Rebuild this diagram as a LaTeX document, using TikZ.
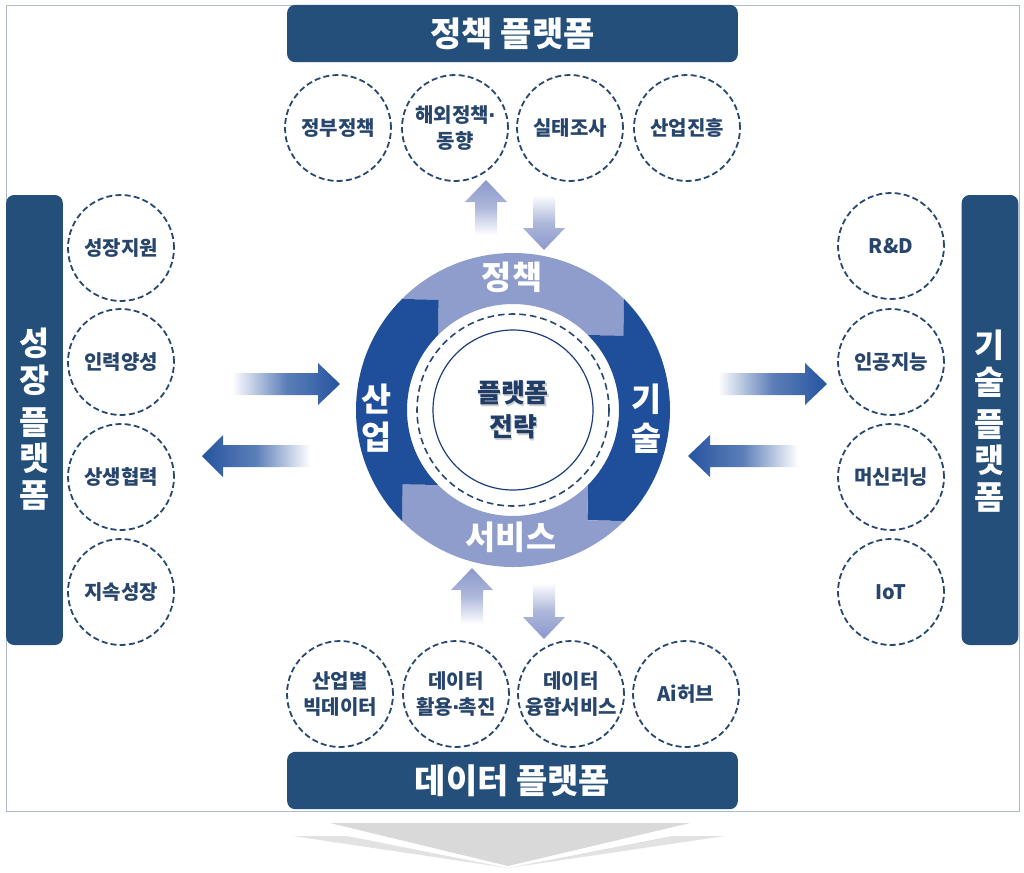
\documentclass[tikz,border=0pt]{standalone}
\usepackage{fontspec}
\setmainfont{Noto Sans CJK KR}
\newfontfamily\dotfont{DejaVu Sans}
\usetikzlibrary{calc}
\definecolor{navy}{RGB}{36,79,122}
\definecolor{circtext}{RGB}{40,70,108}
\definecolor{circline}{RGB}{40,72,112}
\definecolor{ringlight}{RGB}{142,157,203}
\definecolor{ringdark}{RGB}{31,78,154}
\definecolor{harr}{RGB}{38,84,160}
\definecolor{varr}{RGB}{139,153,203}
\definecolor{framecol}{RGB}{172,186,206}
\definecolor{centertext}{RGB}{31,61,102}
\definecolor{chevmain}{RGB}{217,217,217}
\definecolor{chevwing}{RGB}{226,226,226}
\newcommand\mdot{{\dotfont\bfseries\kern-0.05em·\kern-0.05em}}
\tikzset{
 item/.style={circle, draw=circline, line width=1.35pt, dash pattern=on 4.5pt off 2.4pt, minimum size=79.5pt, inner sep=0pt, align=center, text=circtext, font=\bfseries\fontsize{15}{19}\selectfont},
 hdr/.style={fill=navy, rounded corners=6pt, minimum width=338pt, minimum height=43pt, inner sep=0pt, text=white, font=\bfseries\fontsize{25.5}{30}\selectfont},
 vbar/.style={fill=navy, rounded corners=6pt, minimum width=42.5pt, minimum height=337.5pt, inner sep=0pt},
 vbartxt/.style={text=white, align=center, inner sep=0pt, font=\bfseries\fontsize{24.5}{27.5}\selectfont},
 ringtxt/.style={text=white, align=center, inner sep=0pt, font=\bfseries\fontsize{24.5}{29}\selectfont},
 centertxt/.style={text=centertext, align=center, inner sep=0pt, font=\bfseries\fontsize{19.5}{25.5}\selectfont},
}
% point at visual angle #1, radius #2 from (C)
\newcommand\rp[2]{($(C)+({#2*cos(#1)},{-#2*sin(#1)})$)}
\newcommand\ringseg[3]{%
 \fill[#3] \rp{#1}{157} arc[start angle=-#1, end angle=-#2, radius=157]
   -- \rp{#2-11}{133} -- \rp{#2}{106}
   arc[start angle=-#2, end angle=-#1, radius=106]
   -- \rp{#1-11}{133} -- cycle;}
% horizontal block arrow: tail x, head-base x, tip x, y, left colour, right colour
\newcommand\harrow[6]{%
 \shade[left color=#5, right color=#6, middle color=harr!75] (#1,#4-11) -- (#2,#4-11) -- (#2,#4-21) -- (#3,#4) -- (#2,#4+21) -- (#2,#4+11) -- (#1,#4+11) -- cycle;}
\newcommand\varrow[6]{%
 \shade[top color=#5, bottom color=#6, middle color=varr!70] (#4-11,#1) -- (#4-11,#2) -- (#4-21,#2) -- (#4,#3) -- (#4+21,#2) -- (#4+11,#2) -- (#4+11,#1) -- cycle;}
\begin{document}
\begin{tikzpicture}[x=0.75pt,y=-0.75pt]
\useasboundingbox (0,0) rectangle (1024,872);
\fill[white] (0,0) rectangle (1024,872);
% frame
\draw[framecol, line width=0.75pt] (6,5) rectangle (1019,811);

% headers
\node[hdr] (polh) at (512.5,33.5) {정책 플랫폼};
\node[hdr] (dath) at (512.5,780.5) {데이터 플랫폼};
\node[vbar] (grow) at (34.5,420) {};
\node[vbartxt] (growt) at (34.5,419) {성\\장\\[4pt]플\\랫\\폼};
\node[vbar] (tech) at (990,420) {};
\node[vbartxt] (techt) at (990,421) {기\\술\\[4pt]플\\랫\\폼};

% top circles
\node[item] (p1) at (338,128) {정부정책};
\node[item] (p2) at (455,128) {해외정책\mdot\\동향};
\node[item] (p3) at (570,128) {실태조사};
\node[item] (p4) at (687,128) {산업진흥};
% bottom circles
\node[item] (d1) at (340,694) {산업별\\빅데이터};
\node[item] (d2) at (456,694) {데이터\\활용\mdot 촉진};
\node[item] (d3) at (571,694) {데이터\\융합서비스};
\node[item] (d4) at (686,694) {Ai허브};
% left circles
\node[item] (g1) at (121,248) {성장지원};
\node[item] (g2) at (121,362) {인력양성};
\node[item] (g3) at (121,477) {상생협력};
\node[item] (g4) at (121,592) {지속성장};
% right circles
\node[item] (t1) at (891,246) {R\&D};
\node[item] (t2) at (891,362) {인공지능};
\node[item] (t3) at (891,477) {머신러닝};
\node[item] (t4) at (891,592) {IoT};

% centre ring
\coordinate (C) at (513,410);
\ringseg{135}{45}{ringlight}
\ringseg{45}{-45}{ringdark}
\ringseg{-45}{-135}{ringlight}
\ringseg{-135}{-225}{ringdark}
\draw[circline, line width=1.2pt, dash pattern=on 5pt off 3pt] (C) circle[radius=96];
\draw[ringdark!80!black, line width=0.9pt] (C) circle[radius=80];
\node[centertxt, text=black!18] at (514.5,411.5) {플랫폼\\전략};
\node[centertxt] (ctr) at (513,410) {플랫폼\\전략};
\node[ringtxt] (rpol) at (512,277) {정책};
\node[ringtxt] (rsvc) at (511,537) {서비스};
\node[ringtxt] (rind) at (377,418) {산\\업};
\node[ringtxt] (rtec) at (647,419) {기\\술};

% horizontal arrows
\harrow{232}{318}{340}{384}{white}{harr}
\harrow{310}{223}{202}{456}{harr}{white}
\harrow{718}{805}{827}{384}{white}{harr}
\harrow{798}{710}{688}{456}{harr}{white}
% vertical arrows
\varrow{235}{202}{180}{486}{varr}{white}
\varrow{195}{228}{250}{544}{white}{varr}
\varrow{624}{590}{568}{472}{varr}{white}
\varrow{583}{617}{639}{544}{white}{varr}

% bottom chevron
\fill[chevwing] (293,836) -- (347,836) -- (508,868) -- cycle;
\fill[chevwing] (725,836) -- (672,836) -- (508,868) -- cycle;
\fill[chevmain] (330,823) -- (690,823) -- (508,866) -- cycle;
\end{tikzpicture}
\end{document}
